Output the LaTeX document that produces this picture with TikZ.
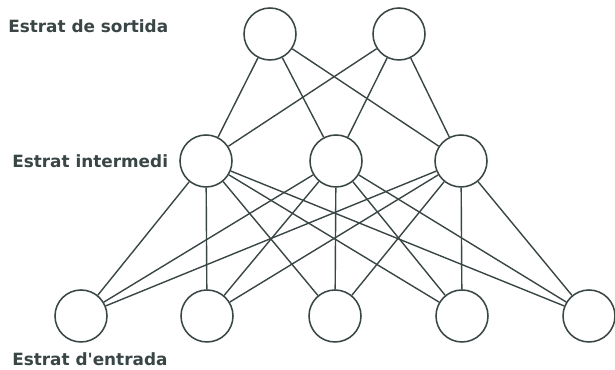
\documentclass[tikz,border=0pt]{standalone}
\usepackage{fontspec}
\setmainfont{DejaVu Sans}
\usepackage{xcolor}
\definecolor{ink}{HTML}{3A4646}

\begin{document}
\begin{tikzpicture}[scale = 1, transform shape,
    neuron/.style = {draw = ink, line width = 1.1pt, circle, minimum size = 1.3cm, inner sep = 0pt},
    link/.style = {draw = ink, line width = 1pt},
    layer/.style = {anchor = base west, inner sep = 0pt, text = ink, font = \fontsize{12}{14}\selectfont\bfseries}]
    \useasboundingbox (0, 0) rectangle (15.375, 9.25);

    % output layer
    \node[neuron] (o1) at (6.75, 8.4) {};
    \node[neuron] (o2) at (9.975, 8.4) {};
    % hidden layer
    \node[neuron] (h1) at (5.15, 5.225) {};
    \node[neuron] (h2) at (8.4, 5.225) {};
    \node[neuron] (h3) at (11.525, 5.225) {};
    % input layer
    \node[neuron] (i1) at (2.025, 1.35) {};
    \node[neuron] (i2) at (5.175, 1.35) {};
    \node[neuron] (i3) at (8.375, 1.35) {};
    \node[neuron] (i4) at (11.55, 1.35) {};
    \node[neuron] (i5) at (14.725, 1.35) {};

    \node[layer] (lo) at (0.2, 8.425) {Estrat de sortida};
    \node[layer] (lh) at (0.3, 5.05) {Estrat intermedi};
    \node[layer] (li) at (0.3, 0.1) {Estrat d\textquotesingle entrada};

    % hidden to output
    \draw[link] (h1) -- (o1);
    \draw[link] (h1) -- (o2);
    \draw[link] (h2) -- (o1);
    \draw[link] (h2) -- (o2);
    \draw[link] (h3) -- (o1);
    \draw[link] (h3) -- (o2);

    % input to hidden
    \draw[link] (i1) -- (h1);
    \draw[link] (i1) -- (h2);
    \draw[link] (i1) -- (h3);
    \draw[link] (i2) -- (h1);
    \draw[link] (i2) -- (h2);
    \draw[link] (i2) -- (h3);
    \draw[link] (i3) -- (h1);
    \draw[link] (i3) -- (h2);
    \draw[link] (i3) -- (h3);
    \draw[link] (i4) -- (h1);
    \draw[link] (i4) -- (h2);
    \draw[link] (i4) -- (h3);
    \draw[link] (i5) -- (h1);
    \draw[link] (i5) -- (h2);
    \draw[link] (i5) -- (h3);

  \end{tikzpicture}
\end{document}
